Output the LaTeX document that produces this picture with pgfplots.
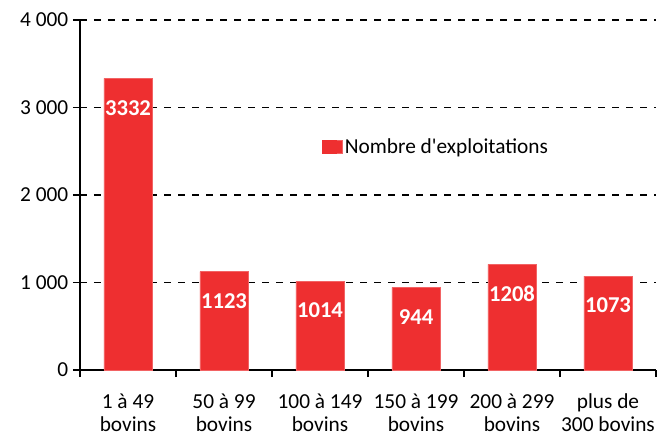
\documentclass[border=0pt]{standalone}
\usepackage{pgfplots}
\pgfplotsset{compat=1.18}
\usepackage{fontspec}
\setmainfont{Carlito}[Ligatures=TeXOff]
\definecolor{barred}{RGB}{238,47,48}
\begin{document}
\begin{tikzpicture}
\path (-60pt,-47.25pt) rectangle (442.5pt,277.5pt);
\begin{axis}[
  scale only axis, width=432pt, height=262.5pt,
  xmin=-0.5, xmax=5.5, ymin=0, ymax=4000,
  axis x line=bottom, axis y line=left,
  axis line style={-, line width=0.9pt, black},
  xtick={-0.5,0.5,...,5.5}, x tick label as interval,
  xticklabels={{1 à 49\\bovins},{50 à 99\\bovins},{100 à 149\\bovins},{150 à 199\\bovins},{200 à 299\\bovins},{plus de\\300 bovins}},
  xticklabel style={align=center, font=\fontsize{16}{17.5}\selectfont},
  xticklabel shift=9pt,
  ytick={0,1000,2000,3000,4000},
  yticklabel style={font=\fontsize{16}{17.25}\selectfont, /pgf/number format/1000 sep={\ }},
  /pgf/number format/assume math mode=true,
  tick align=outside, major tick length=5.25pt,
  tick style={black, line width=0.9pt},
  ymajorgrids, grid style={black, line width=0.8pt, dash pattern=on 5pt off 5.5pt},
  legend style={at={(0.42,0.637)}, anchor=west, draw=none, fill=none, inner sep=0pt,
    font=\fontsize{16}{17.25}\selectfont},
  legend image code/.code={\path (0pt,-5pt) rectangle (14.5pt,5pt);\fill[barred] (0pt,-5pt) rectangle (10pt,5pt);},
]
\addplot[ybar, bar width=0.5, fill=barred, draw=barred!75!white, line width=0.5pt,
  nodes near coords, point meta=explicit symbolic,
  every node near coord/.append style={anchor=center, yshift=-22pt, text=white,
    font=\fontsize{17}{17}\selectfont\bfseries}]
  coordinates {(0,3332) [3332] (1,1123) [1123] (2,1014) [1014] (3,944) [944] (4,1208) [1208] (5,1073) [1073]};
\addlegendentry{Nombre d'exploitations}
\end{axis}
\end{tikzpicture}
\end{document}
